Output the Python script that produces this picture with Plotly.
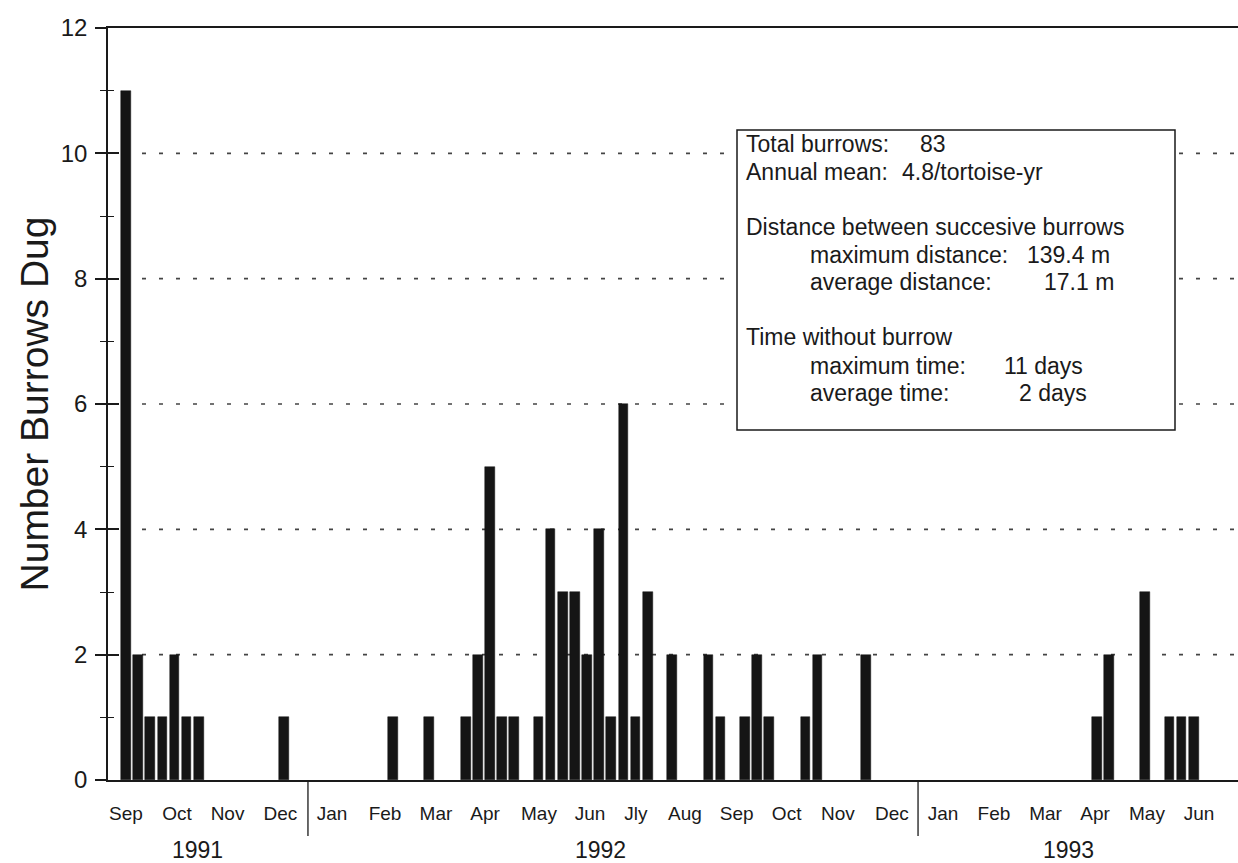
import plotly.graph_objects as go

# ---------------- data ----------------
# week index (0 = mid-Sep 1991) and number of burrows dug that week
week = [0, 1, 2, 3, 4, 5, 6, 13,
        22, 25, 28, 29, 30, 31, 32, 34, 35, 36, 37, 38, 39, 40, 41, 42, 43,
        45, 48, 49, 51, 52, 53, 56, 57, 61,
        80, 81, 84, 86, 87, 88]
burrows = [11, 2, 1, 1, 2, 1, 1, 1,
           1, 1, 1, 2, 5, 1, 1, 1, 4, 3, 3, 2, 4, 1, 6, 1, 3,
           2, 2, 1, 1, 2, 1, 1, 2, 2,
           1, 2, 3, 1, 1, 1]

month_names = ["Sep", "Oct", "Nov", "Dec",
               "Jan", "Feb", "Mar", "Apr", "May", "Jun", "Jly", "Aug",
               "Sep", "Oct", "Nov", "Dec",
               "Jan", "Feb", "Mar", "Apr", "May", "Jun"]
month_tick_pos = [0.0, 4.20, 8.37, 12.73,
                  16.98, 21.35, 25.55, 29.59, 34.04, 38.24, 42.03, 46.07,
                  50.33, 54.45, 58.68, 63.13,
                  67.34, 71.54, 75.79, 79.87, 84.15, 88.44]
years = ["1991", "1992", "1993"]
year_label_pos = [5.93, 39.15, 77.68]
year_break_pos = [15.0, 65.28]

y_ticks = [0, 2, 4, 6, 8, 10, 12]
grid_levels = [2, 4, 6, 8, 10]

stats_lines = [
    ("Total burrows:", "83", 0),
    ("Annual mean:", "4.8/tortoise-yr", 0),
    ("Distance between succesive burrows", "", 0),
    ("maximum distance:", "139.4 m", 1),
    ("average distance:", "17.1 m", 1),
    ("Time without burrow", "", 0),
    ("maximum time:", "11 days", 1),
    ("average time:", "2 days", 1),
]

# ---------------- layout geometry ----------------
W, H = 1238, 863
L, R, T, B = 108, 0, 28, 83
PW, PH = W - L - R, H - T - B
X_RANGE = [-1.48, 91.65]
Y_RANGE = [0, 12]
FONT = "Liberation Sans, Arial, Helvetica, sans-serif"
INK = "#1a1a1a"


def px_x(px):
    return (px - L) / PW


def px_y(py):
    return (H - B - py) / PH


def data_x_to_paper(v):
    return (v - X_RANGE[0]) / (X_RANGE[1] - X_RANGE[0])


fig = go.Figure()

fig.add_trace(go.Bar(
    x=week, y=burrows, width=0.8,
    marker=dict(color="#151515", line=dict(color="#151515", width=0.5)),
    showlegend=False, hoverinfo="x+y",
))
# dummy trace to activate the overlay axis used for inner tick marks
fig.add_trace(go.Scatter(x=[None], y=[None], yaxis="y2", showlegend=False,
                         hoverinfo="skip"))

shapes = []
# dotted reference lines
for g in grid_levels:
    shapes.append(dict(type="line", xref="paper", yref="y", x0=px_x(142), x1=1,
                       y0=g, y1=g, layer="below",
                       line=dict(color="#444444", width=1.6, dash="4px,13px")))
# year separators below the axis
for b in year_break_pos:
    xp = data_x_to_paper(b)
    shapes.append(dict(type="line", xref="paper", yref="paper", x0=xp, x1=xp,
                       y0=0, y1=px_y(836), line=dict(color=INK, width=1.3)))
# statistics box
box_l, box_r, box_t, box_b = 737, 1175, 130, 430
shapes.append(dict(type="rect", xref="paper", yref="paper",
                   x0=px_x(box_l), x1=px_x(box_r), y0=px_y(box_b), y1=px_y(box_t),
                   fillcolor="white", line=dict(color=INK, width=1.5), layer="above"))

annotations = []
for name, xpos in zip(years, year_label_pos):
    annotations.append(dict(text=name, x=data_x_to_paper(xpos), y=px_y(850),
                            xref="paper", yref="paper", showarrow=False,
                            xanchor="center", yanchor="middle",
                            font=dict(family=FONT, size=23, color=INK)))

line_y = [143.5, 171.7, 226.7, 255.0, 282.3, 337.3, 365.7, 393.3]
value_x = {"83": 918, "4.8/tortoise-yr": 900, "139.4 m": 1025, "17.1 m": 1042,
           "11 days": 1002, "2 days": 1017}
for (label, value, indent), ly in zip(stats_lines, line_y):
    lx = 808 if indent else 744
    annotations.append(dict(text=label, x=px_x(lx), y=px_y(ly), xref="paper",
                            yref="paper", showarrow=False, xanchor="left",
                            yanchor="middle",
                            font=dict(family=FONT, size=23, color=INK)))
    if value:
        annotations.append(dict(text=value, x=px_x(value_x[value]), y=px_y(ly),
                                xref="paper", yref="paper", showarrow=False,
                                xanchor="left", yanchor="middle",
                                font=dict(family=FONT, size=23, color=INK)))

fig.update_layout(
    width=W, height=H,
    margin=dict(l=L, r=R, t=T, b=B, pad=0),
    paper_bgcolor="white", plot_bgcolor="white",
    bargap=0,
    xaxis=dict(range=X_RANGE, tickmode="array", tickvals=month_tick_pos,
               ticktext=month_names, ticks="", showgrid=False, zeroline=False,
               showline=True, linecolor=INK, linewidth=2, mirror=True,
               ticklabelstandoff=15,
               tickfont=dict(family=FONT, size=19, color=INK), fixedrange=True),
    yaxis=dict(range=Y_RANGE, tickmode="array", tickvals=y_ticks,
               ticks="outside", ticklen=11, tickwidth=1.5, tickcolor=INK,
               minor=dict(ticks="outside", ticklen=6, tickwidth=1.2,
                          tickcolor=INK, dtick=1, tick0=0, showgrid=False),
               showgrid=False, zeroline=False, showline=True, linecolor=INK,
               linewidth=1.5, tickfont=dict(family=FONT, size=24, color=INK),
               ticklabelstandoff=3,
               title=dict(text="Number Burrows Dug", standoff=0,
                          font=dict(family=FONT, size=39, color=INK)),
               fixedrange=True),
    yaxis2=dict(range=Y_RANGE, overlaying="y", side="left", anchor="x",
                tickmode="array", tickvals=y_ticks, ticks="inside", ticklen=11,
                tickwidth=1.5, tickcolor=INK, showticklabels=False,
                minor=dict(ticks="inside", ticklen=6, tickwidth=1.2,
                           tickcolor=INK, dtick=1, tick0=0, showgrid=False),
                showgrid=False, zeroline=False, showline=False, fixedrange=True),
    shapes=shapes,
    annotations=annotations,
    font=dict(family=FONT, color=INK),
)

fig.write_html("out.html",
               config={"displayModeBar": False},
               post_script="document.body.style.margin='0px';"
                           "document.body.style.overflow='hidden';")
